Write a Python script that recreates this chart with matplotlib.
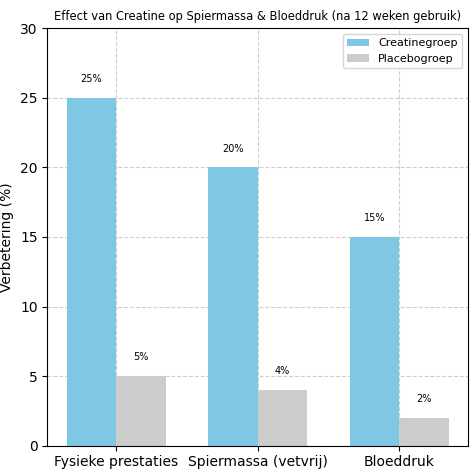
import numpy as np
import matplotlib
matplotlib.use("Agg")
import matplotlib.pyplot as plt

categories = ["Fysieke prestaties", "Spiermassa (vetvrij)", "Bloeddruk"]
creatine = [25, 20, 15]
placebo = [5, 4, 2]

fig, ax = plt.subplots(figsize=(4.74, 4.74), dpi=100)
x = np.arange(len(categories))
w = 0.35

b1 = ax.bar(x - w / 2, creatine, w, color="#7ec8e3", label="Creatinegroep")
b2 = ax.bar(x + w / 2, placebo, w, color="#cccccc", label="Placebogroep")

for bars in (b1, b2):
    for bar in bars:
        ax.annotate(f"{int(bar.get_height())}%",
                    (bar.get_x() + bar.get_width() / 2, bar.get_height()),
                    xytext=(0, 10), textcoords="offset points",
                    ha="center", va="bottom", fontsize=7)

ax.set_ylim(0, 30)
ax.set_xticks(x)
ax.set_xticklabels(categories, fontsize=10)
ax.tick_params(axis="y", labelsize=10)
ax.set_ylabel("Verbetering (%)", fontsize=10)
ax.set_title("Effect van Creatine op Spiermassa & Bloeddruk (na 12 weken gebruik)", fontsize=8.3)
ax.grid(True, linestyle="--", alpha=0.6)
ax.set_axisbelow(True)
ax.legend(loc="upper right", fontsize=8)

fig.subplots_adjust(left=0.1, right=0.987, top=0.94, bottom=0.06)
fig.savefig("out.png", dpi=100)
